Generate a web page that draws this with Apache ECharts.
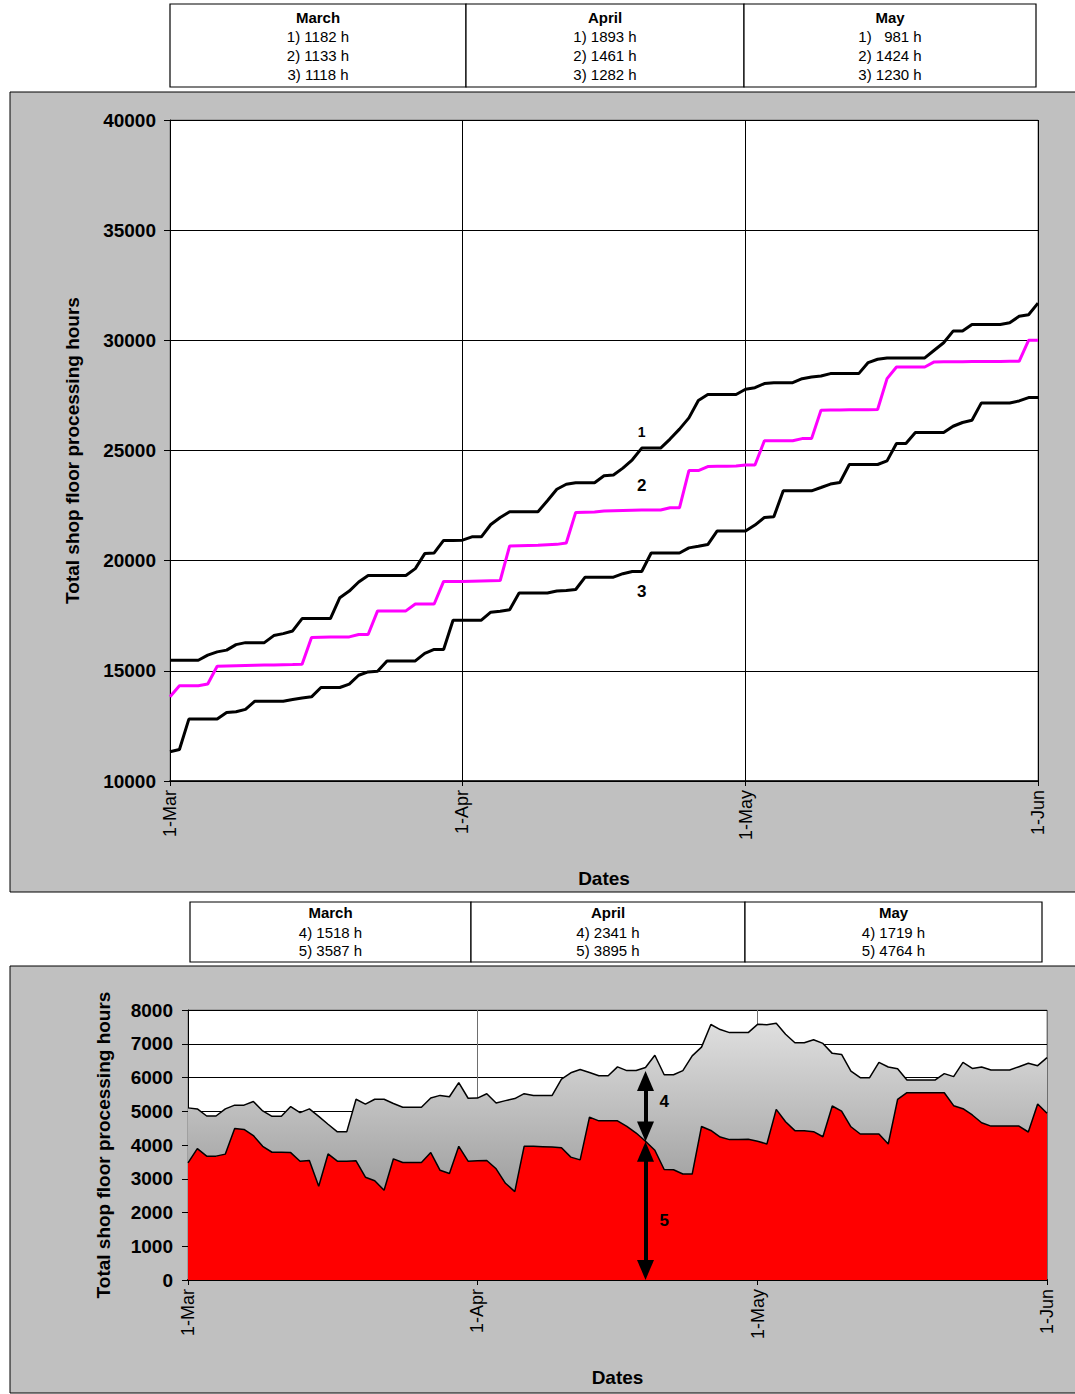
<!DOCTYPE html>
<html>
<head>
<meta charset="utf-8">
<title>Total shop floor processing hours</title>
<script src="https://cdn.jsdelivr.net/npm/echarts@6/dist/echarts.min.js"></script>
<style>
  html, body { margin: 0; padding: 0; background: #fff; }
  #main { width: 1075px; height: 1394px; }
</style>
</head>
<body>
<div id="main"></div>
<script>
// date axis: one category per day, labels only on the first of each month
var monthNames = ['Mar', 'Apr', 'May', 'Jun'];
var monthLengths = [31, 30, 31, 1];
var tickDays = [0, 31, 61, 92];

// tables above the charts
var tableMonths = ['March', 'April', 'May'];
var topTableRows = [
    ['1) 1182 h', '2) 1133 h', '3) 1118 h'],
    ['1) 1893 h', '2) 1461 h', '3) 1282 h'],
    ['1)   981 h', '2) 1424 h', '3) 1230 h']
];
var bottomTableRows = [
    ['4) 1518 h', '5) 3587 h'],
    ['4) 2341 h', '5) 3895 h'],
    ['4) 1719 h', '5) 4764 h']
];

// upper chart, cumulative hours (1 Mar .. 1 Jun)
var line1 = [15480, 15480, 15480, 15480, 15710, 15860, 15940, 16190, 16280, 16280, 16280, 16600, 16690, 16810, 17370, 17370,
    17370, 17370, 18320, 18620, 19030, 19330, 19330, 19330, 19330, 19330, 19640, 20320, 20350, 20920, 20920,
    20930, 21080, 21080, 21640, 21960, 22220, 22220, 22220, 22220, 22720, 23240, 23470, 23540, 23540, 23540,
    23850, 23890, 24200, 24580, 25110, 25110, 25110, 25520, 25970, 26480, 27270, 27540, 27540, 27540, 27540,
    27780, 27850, 28040, 28080, 28080, 28080, 28260, 28340, 28380, 28490, 28490, 28490, 28490, 28990, 29140,
    29200, 29200, 29200, 29200, 29200, 29550, 29890, 30420, 30420, 30720, 30720, 30720, 30720, 30800, 31090,
    31160, 31690];
var line2 = [13820, 14320, 14320, 14320, 14400, 15210, 15220, 15230, 15240, 15250, 15260, 15270, 15280, 15290, 15300, 16510,
    16520, 16530, 16540, 16540, 16650, 16650, 17720, 17720, 17720, 17720, 18035, 18035, 18035, 19060, 19060,
    19060, 19070, 19080, 19090, 19100, 20670, 20680, 20690, 20700, 20720, 20740, 20800, 22190, 22200, 22210,
    22250, 22270, 22280, 22290, 22300, 22300, 22300, 22400, 22400, 24090, 24090, 24270, 24280, 24290, 24300,
    24340, 24340, 25440, 25440, 25440, 25440, 25540, 25540, 26830, 26835, 26840, 26845, 26850, 26855, 26860,
    28260, 28790, 28790, 28790, 28790, 29020, 29025, 29030, 29030, 29035, 29040, 29040, 29045, 29050, 29050,
    30000, 30000];
var line3 = [11330, 11430, 12810, 12810, 12810, 12810, 13110, 13140, 13250, 13620, 13620, 13620, 13620, 13700, 13770, 13820,
    14245, 14245, 14245, 14400, 14800, 14950, 14985, 15450, 15450, 15450, 15450, 15790, 15970, 15970, 17295,
    17295, 17300, 17300, 17660, 17700, 17770, 18530, 18530, 18530, 18530, 18620, 18650, 18690, 19250, 19250,
    19250, 19250, 19410, 19510, 19510, 20350, 20350, 20350, 20350, 20580, 20650, 20730, 21350, 21350, 21350,
    21350, 21615, 21960, 21990, 23170, 23170, 23170, 23170, 23320, 23475, 23550, 24365, 24365, 24365, 24365,
    24530, 25320, 25320, 25815, 25815, 25815, 25815, 26100, 26270, 26370, 27160, 27160, 27160, 27160, 27250,
    27400, 27400];

// lower chart, stacked: 5 (red, bottom) + 4 (grey, on top)
var part5 = [3470, 3895, 3670, 3670, 3730, 4490, 4460, 4280, 3960, 3785, 3785, 3775, 3520, 3540, 2780, 3735,
    3520, 3520, 3530, 3045, 2940, 2660, 3590, 3480, 3480, 3480, 3775, 3250, 3155, 3960, 3520,
    3530, 3540, 3295, 2865, 2620, 3960, 3960, 3950, 3940, 3920, 3640, 3560, 4825, 4715, 4715,
    4715, 4550, 4355, 4110, 3845, 3275, 3265, 3140, 3140, 4550, 4430, 4235, 4160, 4160, 4170,
    4110, 4030, 5055, 4690, 4425, 4425, 4395, 4245, 5155, 5005, 4540, 4325, 4325, 4325, 4030,
    5350, 5550, 5550, 5550, 5550, 5550, 5165, 5075, 4890, 4660, 4560, 4560, 4560, 4560, 4385,
    5215, 4940];
var part4 = [1630, 1175, 1190, 1190, 1340, 690, 720, 1010, 1050, 1065, 1065, 1365, 1440, 1530, 2070, 880,
    870, 870, 1825, 2165, 2415, 2695, 1640, 1640, 1640, 1640, 1620, 2220, 2275, 1890, 1865,
    1860, 1980, 1950, 2450, 2755, 1560, 1510, 1520, 1530, 2030, 2500, 2675, 1325, 1335, 1335,
    1600, 1655, 1850, 2185, 2815, 2805, 2815, 3065, 3500, 2350, 3140, 3185, 3170, 3170, 3160,
    3465, 3535, 2550, 2590, 2605, 2605, 2725, 2765, 1560, 1680, 1650, 1670, 1670, 2125, 2280,
    910, 375, 375, 375, 375, 565, 860, 1375, 1380, 1650, 1660, 1660, 1660, 1760, 2035,
    1135, 1650];

var FONT = '"Liberation Sans", Arial, sans-serif';
var chart = echarts.init(document.getElementById('main'), null, { renderer: 'svg' });

function buildDates() {
    var dates = [];
    for (var m = 0; m < monthNames.length; m++) {
        for (var d = 1; d <= monthLengths[m]; d++) {
            dates.push(d + '-' + monthNames[m]);
        }
    }
    return dates;
}

function isMonthStart(index) {
    return tickDays.indexOf(index) !== -1;
}

/**
 * white boxes with the monthly figures
 */
function tableGraphics(xs, y0, y1, rows, rowYs) {
    var els = [];
    for (var i = 0; i < tableMonths.length; i++) {
        var cx = (xs[i] + xs[i + 1]) / 2;
        els.push({
            type: 'rect', z: 5,
            shape: { x: xs[i], y: y0, width: xs[i + 1] - xs[i], height: y1 - y0 },
            style: { fill: '#fff', stroke: '#000', lineWidth: 1.2 }
        });
        var lines = [tableMonths[i]].concat(rows[i]);
        for (var j = 0; j < lines.length; j++) {
            els.push({
                type: 'text', z: 6,
                style: {
                    text: lines[j], x: cx, y: rowYs[j],
                    align: 'center', verticalAlign: 'middle',
                    textAlign: 'center', textVerticalAlign: 'middle',
                    font: (j === 0 ? 'bold ' : '') + '15px ' + FONT,
                    fill: '#000'
                }
            });
        }
    }
    return els;
}

function valueLabel(v) {
    return String(v);
}

function xAxisFor(gridIndex, dates, splitColor, lineWidth) {
    return {
        type: 'category', gridIndex: gridIndex, data: dates, boundaryGap: false,
        axisLine: { show: true, lineStyle: { color: '#000', width: lineWidth } },
        axisTick: { show: true, interval: isMonthStart, length: 5, lineStyle: { color: '#000' } },
        axisLabel: { interval: isMonthStart, rotate: 90, margin: 9, fontSize: 18, color: '#000', fontFamily: FONT },
        splitLine: { show: true, interval: isMonthStart, lineStyle: { color: splitColor, width: 1 } },
        name: 'Dates', nameLocation: 'middle', nameGap: 88,
        nameTextStyle: { fontSize: 19, fontWeight: 'bold', color: '#000', fontFamily: FONT }
    };
}

function yAxisFor(gridIndex, min, max, interval, margin, gap) {
    return {
        type: 'value', gridIndex: gridIndex, min: min, max: max, interval: interval,
        axisLine: { show: true, lineStyle: { color: '#000', width: 1 } },
        axisTick: { show: true, length: 6, lineStyle: { color: '#000' } },
        axisLabel: { formatter: valueLabel, fontSize: 19, fontWeight: 'bold', color: '#000', margin: margin, fontFamily: FONT },
        splitLine: { show: true, lineStyle: { color: '#000', width: 1 } },
        name: 'Total shop floor processing hours', nameLocation: 'middle', nameRotate: 90, nameGap: gap,
        nameTextStyle: { fontSize: 19, fontWeight: 'bold', color: '#000', fontFamily: FONT }
    };
}

function tag(text, size, coord) {
    return {
        symbol: 'circle', symbolSize: 1, silent: true,
        itemStyle: { color: 'rgba(0,0,0,0)' },
        label: { show: true, position: 'inside', formatter: text, color: '#000', fontWeight: 'bold', fontSize: size, fontFamily: FONT },
        data: [{ coord: coord }]
    };
}

function initChart() {
    var dates = buildDates();
    var greyFill = new echarts.graphic.LinearGradient(0, 1010, 0, 1215, [
        { offset: 0, color: '#e4e4e4' },
        { offset: 1, color: '#969696' }
    ], true);

    var graphics = [
        { type: 'rect', z: -10, shape: { x: 10, y: 92, width: 1075, height: 800 }, style: { fill: '#c0c0c0', stroke: '#000', lineWidth: 1 } },
        { type: 'rect', z: -10, shape: { x: 10, y: 966, width: 1075, height: 427 }, style: { fill: '#c0c0c0', stroke: '#000', lineWidth: 1 } }
    ];
    graphics = graphics.concat(tableGraphics([170, 466, 744, 1036], 4, 87, topTableRows, [17, 36, 55, 74]));
    graphics = graphics.concat(tableGraphics([190, 471, 745, 1042], 902, 962, bottomTableRows, [912, 932, 950]));

    var option = {
        animation: false,
        backgroundColor: '#fff',
        textStyle: { fontFamily: FONT },
        graphic: { elements: graphics },
        grid: [
            { left: 170, top: 120, width: 868, height: 661, show: true, backgroundColor: '#fff', borderColor: '#808080', borderWidth: 1 },
            { left: 188, top: 1010, width: 859, height: 270, show: true, backgroundColor: '#fff', borderColor: '#808080', borderWidth: 1 }
        ],
        xAxis: [
            xAxisFor(0, dates, '#000', 1.5),
            xAxisFor(1, dates, '#6e6e6e', 2)
        ],
        yAxis: [
            yAxisFor(0, 10000, 40000, 5000, 14, 88),
            yAxisFor(1, 0, 8000, 1000, 15, 75)
        ],
        series: [
            {
                name: '1', type: 'line', xAxisIndex: 0, yAxisIndex: 0, data: line1,
                showSymbol: false, lineStyle: { color: '#000', width: 3 },
                markPoint: tag('1', 14, [50, 25835])
            },
            {
                name: '2', type: 'line', xAxisIndex: 0, yAxisIndex: 0, data: line2,
                showSymbol: false, lineStyle: { color: '#ff00ff', width: 3 },
                markPoint: tag('2', 17, [50, 23430])
            },
            {
                name: '3', type: 'line', xAxisIndex: 0, yAxisIndex: 0, data: line3,
                showSymbol: false, lineStyle: { color: '#000', width: 3 },
                markPoint: tag('3', 17, [50, 18620])
            },
            {
                name: '5', type: 'line', xAxisIndex: 1, yAxisIndex: 1, data: part5, stack: 'total', z: 3,
                showSymbol: false, lineStyle: { color: '#000', width: 1.5 },
                areaStyle: { color: '#ff0000', opacity: 1 },
                markPoint: tag('5', 17, [51, 1750])
            },
            {
                name: '4', type: 'line', xAxisIndex: 1, yAxisIndex: 1, data: part4, stack: 'total', z: 2,
                showSymbol: false, lineStyle: { color: '#000', width: 1.5 },
                areaStyle: { color: greyFill, opacity: 1 },
                markPoint: tag('4', 17, [51, 5275]),
                markLine: {
                    silent: true, z: 10,
                    symbol: ['triangle', 'triangle'], symbolSize: [17, 20],
                    lineStyle: { color: '#000', width: 4, type: 'solid' },
                    label: { show: false },
                    data: [
                        [{ coord: [49, 5900] }, { coord: [49, 4400] }],
                        [{ coord: [49, 3800] }, { coord: [49, 300] }]
                    ]
                }
            }
        ]
    };
    chart.setOption(option);
}

initChart();
</script>
</body>
</html>
